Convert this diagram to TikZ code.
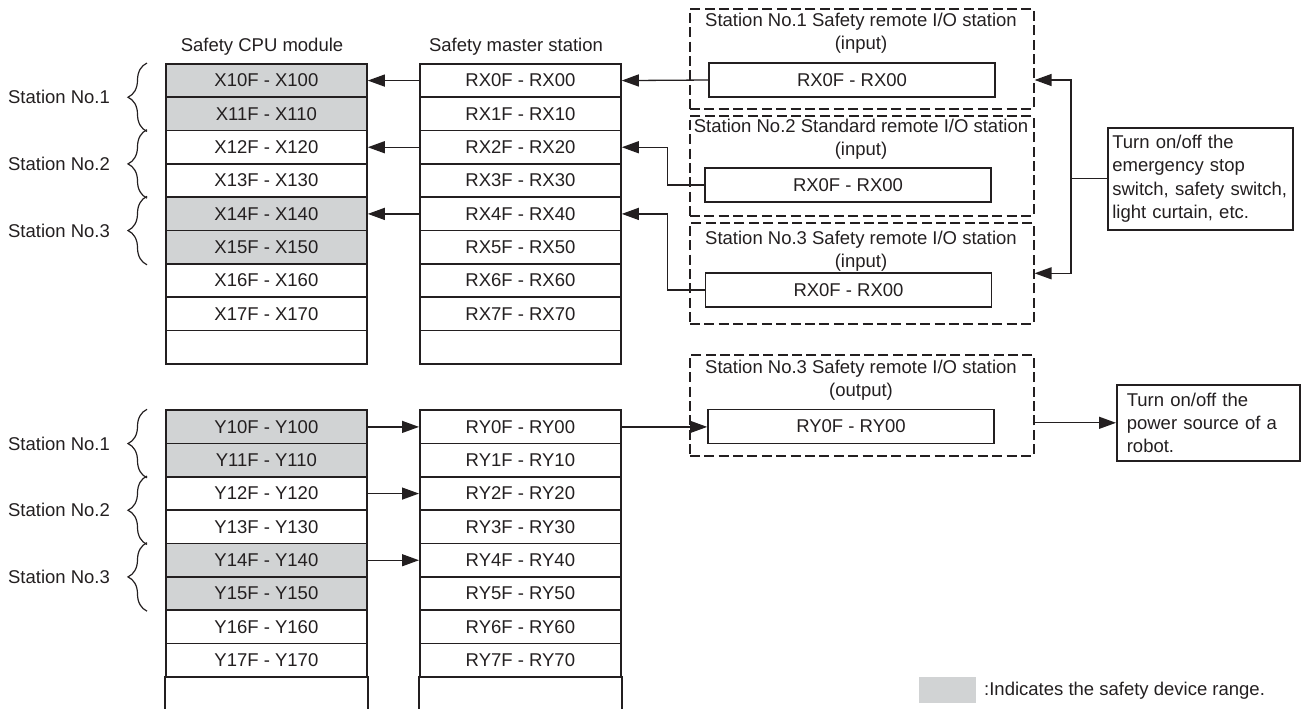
\documentclass[tikz,border=0pt]{standalone}
\usepackage{fontspec}
\setmainfont{Liberation Sans}
\usetikzlibrary{arrows.meta,decorations.pathreplacing,calc}
\definecolor{ink}{RGB}{35,31,32}
\definecolor{safegrey}{RGB}{209,211,212}

\begin{document}
\begin{tikzpicture}[x=0.5pt,y=-0.5pt,
  every node/.style={font=\fontsize{9.25pt}{11.7pt}\selectfont, text=ink},
  cell/.style={draw=ink, line width=0.9pt, minimum width=100.5pt, minimum height=16.667pt,
               inner sep=0pt, anchor=north west},
  safecell/.style={fill=safegrey},
  normcell/.style={fill=white},
  tableline/.style={draw=ink, line width=0.9pt},
  stationbox/.style={draw=ink, line width=0.8pt, dash pattern=on 5pt off 2.2pt,
                     minimum width=172pt, minimum height=50pt, inner sep=0pt, anchor=north west},
  iobox/.style={draw=ink, line width=0.8pt, minimum width=143pt, minimum height=17pt, inner sep=0pt},
  notebox/.style={draw=ink, line width=0.8pt, align=left, anchor=north west},
  conn/.style={draw=ink, line width=0.65pt},
  arr/.style={conn, -{Triangle[length=8.5pt,width=6pt]}},
  bracestyle/.style={draw=ink, line width=0.6pt, decorate, decoration={brace, amplitude=9.5pt}},
]
\useasboundingbox (0,0) rectangle (1303,708);

% ---------- input side: safety CPU module (X) and safety master station (RX)
\node (cpuhead) at (262,47) {Safety CPU module};
\node (masterhead) at (516,47) {Safety master station};

\foreach \lab/\sty [count=\i from 0] in {X10F - X100/safecell, X11F - X110/safecell,
    X12F - X120/normcell, X13F - X130/normcell, X14F - X140/safecell, X15F - X150/safecell,
    X16F - X160/normcell, X17F - X170/normcell, /normcell}
  \node[cell,\sty] (x\i) at (165,63+\i*33.333) {\lab};

\foreach \lab [count=\i from 0] in {RX0F - RX00, RX1F - RX10, RX2F - RX20, RX3F - RX30,
    RX4F - RX40, RX5F - RX50, RX6F - RX60, RX7F - RX70, {}}
  \node[cell,normcell] (rx\i) at (419,63+\i*33.333) {\lab};

% ---------- output side: safety CPU module (Y) and safety master station (RY)
\foreach \lab/\sty [count=\i from 0] in {Y10F - Y100/safecell, Y11F - Y110/safecell,
    Y12F - Y120/normcell, Y13F - Y130/normcell, Y14F - Y140/safecell, Y15F - Y150/safecell,
    Y16F - Y160/normcell, Y17F - Y170/normcell}
  \node[cell,\sty] (y\i) at (165,409.33+\i*33.333) {\lab};

\foreach \lab [count=\i from 0] in {RY0F - RY00, RY1F - RY10, RY2F - RY20, RY3F - RY30,
    RY4F - RY40, RY5F - RY50, RY6F - RY60, RY7F - RY70}
  \node[cell,normcell] (ry\i) at (419,409.33+\i*33.333) {\lab};

% open last rows running off the bottom edge
\node[cell,draw=none,minimum height=16pt] (y8) at (165,676) {};
\node[cell,draw=none,minimum height=16pt] (ry8) at (419,676) {};
\draw[tableline] (y8.north west) -- (y8.south west) (y8.north east) -- (y8.south east);
\draw[tableline] (ry8.north west) -- (ry8.south west) (ry8.north east) -- (ry8.south east);

% ---------- station braces
\foreach \a/\b/\n in {0/1/1, 2/3/2, 4/5/3} {
  \draw[bracestyle] ([xshift=-9pt]x\b.south west) -- ([xshift=-9pt]x\a.north west);
  \node[anchor=east] (xst\n) at ($(x\a.north west)!0.5!(x\b.south west)+(-48,0)$) {Station No.\n};
  \draw[bracestyle] ([xshift=-9pt]y\b.south west) -- ([xshift=-9pt]y\a.north west);
  \node[anchor=east] (yst\n) at ($(y\a.north west)!0.5!(y\b.south west)+(-48,0)$) {Station No.\n};
}

% ---------- remote I/O stations
\node[stationbox] (st1) at (689,8) {};
\node[align=center] (st1title) at (861,33.5) {Station No.1 Safety remote I/O station\\(input)};
\node[iobox] (st1io) at (852,80) {RX0F - RX00};

\node[stationbox] (st2) at (689,115) {};
\node[align=center] (st2title) at (861,139.5) {Station No.2 Standard remote I/O station\\(input)};
\node[iobox] (st2io) at (848,185) {RX0F - RX00};

\node[stationbox,minimum height=50.5pt] (st3) at (689,222) {};
\node[align=center] (st3title) at (861,251) {Station No.3 Safety remote I/O station\\(input)};
\node[iobox] (st3io) at (848.5,290) {RX0F - RX00};

\node[stationbox,minimum height=50.5pt] (stout) at (689,354) {};
\node[align=center] (stouttitle) at (861,380.5) {Station No.3 Safety remote I/O station\\(output)};
\node[iobox] (stoutio) at (851,426.5) {RY0F - RY00};

% ---------- field devices
\node[notebox,text width=88pt,inner xsep=2.25pt,minimum height=51pt] (note1) at (1107,127)
  {Turn on/off the\\emergency stop\\switch, safety switch,\\light curtain, etc.};
\node[notebox,text width=81.5pt,inner xsep=5pt,minimum height=38pt] (note2) at (1116,384)
  {Turn on/off the\\power source of a\\robot.};

% ---------- input data flow
\draw[arr] (st1io.west) -- (rx0.east);
\draw[arr] (st2io.west) -- ++(-37,0) |- (rx2.east);
\draw[arr] (st3io.west) -- ++(-37,0) |- (rx4.east);
\draw[arr] (rx0.west) -- (x0.east);
\draw[arr] (rx2.west) -- (x2.east);
\draw[arr] (rx4.west) -- (x4.east);
\draw[arr] (note1.west) -- ++(-36,0) |- (st1.east |- st1io.east);
\draw[arr] (note1.west) -- ++(-36,0) |- (st3.east);

% ---------- output data flow
\draw[arr] (y0.east) -- (ry0.west);
\draw[arr] (y2.east) -- (ry2.west);
\draw[arr] (y4.east) -- (ry4.west);
\draw[arr] (ry0.east) -- (stoutio.west |- ry0.east);
\draw[arr] (stout.east |- note2.west) -- (note2.west);

% ---------- legend
\node[fill=safegrey,minimum width=28.5pt,minimum height=13pt,inner sep=0pt,anchor=north west]
  (key) at (919,677) {};
\node[anchor=west,inner xsep=0pt] (keytext) at ([xshift=3.5pt]key.east)
  {:Indicates the safety device range.};
\end{tikzpicture}
\end{document}
